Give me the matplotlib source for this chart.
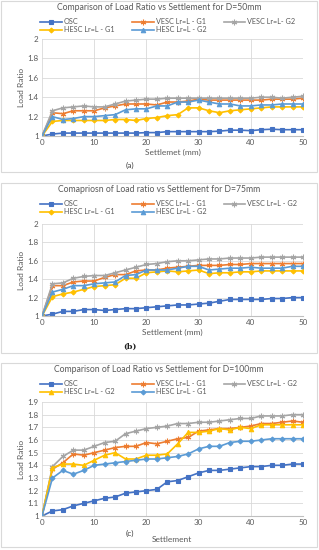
import numpy as np
import matplotlib.pyplot as plt
from matplotlib.patches import Rectangle

plt.rcParams['font.family'] = ['Lato', 'DejaVu Sans']

settlement = list(range(0, 52, 2))

# D = 50 mm
osc_a = [1, 1.02, 1.03, 1.03, 1.03, 1.03, 1.03, 1.03, 1.03, 1.03, 1.035, 1.035, 1.045,
         1.045, 1.045, 1.045, 1.045, 1.05, 1.06, 1.06, 1.055, 1.065, 1.07, 1.065, 1.065, 1.065]
vesc1_a = [1, 1.24, 1.23, 1.26, 1.26, 1.26, 1.29, 1.31, 1.33, 1.33, 1.33, 1.32, 1.35,
           1.35, 1.36, 1.38, 1.37, 1.37, 1.37, 1.37, 1.37, 1.37, 1.38, 1.38, 1.38, 1.39]
vesc2_a = [1, 1.26, 1.29, 1.30, 1.31, 1.30, 1.30, 1.33, 1.36, 1.37, 1.38, 1.38, 1.39,
           1.39, 1.39, 1.39, 1.39, 1.39, 1.39, 1.39, 1.39, 1.40, 1.40, 1.39, 1.40, 1.41]
hesc1_a = [1, 1.15, 1.16, 1.16, 1.16, 1.16, 1.16, 1.17, 1.17, 1.16, 1.18, 1.19, 1.21,
           1.22, 1.29, 1.29, 1.26, 1.24, 1.26, 1.27, 1.28, 1.29, 1.30, 1.30, 1.30, 1.30]
hesc2_a = [1, 1.20, 1.17, 1.18, 1.20, 1.20, 1.21, 1.22, 1.27, 1.28, 1.28, 1.31, 1.31,
           1.35, 1.35, 1.37, 1.35, 1.33, 1.33, 1.31, 1.31, 1.32, 1.32, 1.33, 1.33, 1.33]

# D = 75 mm
osc_b = [1, 1.02, 1.05, 1.05, 1.07, 1.07, 1.06, 1.07, 1.08, 1.08, 1.09, 1.10, 1.11,
         1.12, 1.12, 1.13, 1.14, 1.16, 1.18, 1.18, 1.18, 1.18, 1.19, 1.19, 1.20, 1.20]
vesc1_b = [1, 1.33, 1.33, 1.37, 1.38, 1.38, 1.42, 1.45, 1.45, 1.49, 1.50, 1.50, 1.52,
           1.53, 1.54, 1.55, 1.55, 1.55, 1.56, 1.56, 1.57, 1.57, 1.57, 1.57, 1.57, 1.57]
vesc2_b = [1, 1.35, 1.36, 1.41, 1.43, 1.44, 1.44, 1.47, 1.50, 1.53, 1.56, 1.57, 1.59,
           1.60, 1.60, 1.61, 1.62, 1.62, 1.63, 1.63, 1.63, 1.64, 1.64, 1.64, 1.64, 1.64]
hesc1_b = [1, 1.21, 1.24, 1.26, 1.29, 1.32, 1.33, 1.34, 1.41, 1.41, 1.47, 1.48, 1.49,
           1.48, 1.49, 1.50, 1.46, 1.47, 1.47, 1.48, 1.48, 1.49, 1.49, 1.49, 1.49, 1.49]
hesc2_b = [1, 1.26, 1.29, 1.33, 1.33, 1.35, 1.36, 1.37, 1.44, 1.45, 1.50, 1.50, 1.50,
           1.52, 1.54, 1.54, 1.50, 1.51, 1.52, 1.52, 1.53, 1.52, 1.52, 1.52, 1.54, 1.54]

# D = 100 mm
osc_c = [1, 1.04, 1.05, 1.08, 1.10, 1.12, 1.14, 1.15, 1.18, 1.19, 1.20, 1.21, 1.27,
         1.28, 1.31, 1.34, 1.36, 1.36, 1.37, 1.38, 1.39, 1.39, 1.40, 1.40, 1.41, 1.41]
vesc1_c = [1, 1.37, 1.42, 1.49, 1.48, 1.50, 1.52, 1.54, 1.55, 1.55, 1.58, 1.57, 1.59,
           1.61, 1.62, 1.67, 1.68, 1.69, 1.69, 1.70, 1.71, 1.73, 1.73, 1.74, 1.75, 1.74]
vesc2_c = [1, 1.39, 1.47, 1.52, 1.52, 1.55, 1.58, 1.59, 1.65, 1.67, 1.69, 1.70, 1.71,
           1.73, 1.73, 1.74, 1.74, 1.75, 1.76, 1.77, 1.77, 1.79, 1.79, 1.79, 1.80, 1.80]
hesc2_c = [1, 1.38, 1.41, 1.41, 1.40, 1.44, 1.48, 1.50, 1.45, 1.45, 1.48, 1.48, 1.49,
           1.57, 1.66, 1.66, 1.67, 1.69, 1.68, 1.70, 1.69, 1.72, 1.72, 1.72, 1.72, 1.72]
hesc1_c = [1, 1.30, 1.36, 1.33, 1.36, 1.40, 1.41, 1.42, 1.43, 1.44, 1.45, 1.45, 1.46,
           1.47, 1.49, 1.53, 1.55, 1.55, 1.58, 1.59, 1.59, 1.60, 1.61, 1.61, 1.61, 1.61]

BLUE = '#4472C4'
ORANGE = '#ED7D31'
GRAY = '#A5A5A5'
YELLOW = '#FFC000'
LBLUE = '#5B9BD5'

W, H = 319, 550
fig = plt.figure(figsize=(W / 100, H / 100), dpi=100)


def px(x0, y0, x1, y1):
    # pixel box (top-left origin) -> figure fraction
    return [x0 / W, 1 - y1 / H, (x1 - x0) / W, (y1 - y0) / H]


def panel(box, axbox, title, xlabel, tag, series, ymax, ystep, tagstyle, xl_pos=None):
    b = px(*box)
    fig.patches.append(Rectangle((b[0], b[1]), b[2], b[3], transform=fig.transFigure,
                                 fill=False, ec='#D9D9D9', lw=0.8))
    ax = fig.add_axes(px(*axbox))
    handles = {}
    for name, ys, col, mk, ms in series:
        h, = ax.plot(settlement, ys, color=col, marker=mk, ms=ms, lw=1.2,
                     mew=0.8, label=name)
        handles[name] = h
    ax.set_xlim(0, 50)
    ax.set_ylim(1, ymax)
    ax.set_xticks(range(0, 51, 10))
    ticks = np.round(np.arange(1, ymax + 0.001, ystep), 2)
    ax.set_yticks(ticks)
    ax.set_yticklabels(['%g' % t for t in ticks])
    ax.grid(True, color='#D9D9D9', lw=0.6)
    ax.set_axisbelow(True)
    for s in ['top', 'right', 'left']:
        ax.spines[s].set_visible(False)
    ax.spines['bottom'].set_color('#BFBFBF')
    ax.tick_params(length=0, labelsize=5.8, colors='#595959', pad=2.5)
    ax.set_ylabel('Load Ratio', fontsize=6.0, color='#595959', labelpad=2)
    if xl_pos is None:
        ax.set_xlabel(xlabel, fontsize=6.0, color='#595959', labelpad=2)
    else:
        fig.text(xl_pos[0] / W, 1 - xl_pos[1] / H, xlabel, ha='center', va='center',
                 fontsize=6.0, color='#595959')
    # legend above axes
    order = [series[0][0], series[3][0], series[1][0], series[4][0], series[2][0]]
    leg = fig.legend([handles[n] for n in order], order, ncol=3, fontsize=5.2,
                     frameon=False, loc='upper left', handlelength=3.0,
                     columnspacing=2.4, handletextpad=0.3, labelspacing=0.2,
                     borderpad=0.2, bbox_to_anchor=(35 / W, 1 - (box[1] + 12) / H))
    for t in leg.get_texts():
        t.set_color('#595959')
    fig.text((box[0] + box[2]) / 2 / W, 1 - (box[1] + 7) / H, title, ha='center',
             va='center', fontsize=6.2, color='#595959')
    fig.text(tag[0] / W, 1 - tag[1] / H, tag[2], ha='center', va='center', **tagstyle)
    return ax


panel((1, 1, 317, 172), (42, 39, 303, 136),
      'Comparison of Load Ratio vs Settlement for D=50mm', 'Settlemet (mm)',
      (130, 165, '(a)'),
      [('OSC', osc_a, BLUE, 's', 3.2),
       ('VESC Lr=L - G1', vesc1_a, ORANGE, (6, 2, 0), 4),
       ('VESC Lr=L- G2', vesc2_a, GRAY, (6, 2, 0), 4),
       ('HESC Lr=L - G1', hesc1_a, YELLOW, 'D', 2.5),
       ('HESC Lr=L - G2', hesc2_a, LBLUE, '^', 3.2)],
      2, 0.2, dict(fontsize=6.0, color='#404040'))

panel((1, 183, 317, 353), (42, 224, 303, 316),
      'Comapriosn of Load ratio vs Settlement for D=75mm', 'Settlement (mm)',
      (130, 347, '(b)'),
      [('OSC', osc_b, BLUE, 's', 3.2),
       ('VESC Lr=L - G1', vesc1_b, ORANGE, (6, 2, 0), 4),
       ('VESC Lr=L - G2', vesc2_b, GRAY, (6, 2, 0), 4),
       ('HESC Lr=L - G1', hesc1_b, YELLOW, 'D', 2.5),
       ('HESC Lr=L - G2', hesc2_b, LBLUE, '^', 3.2)],
      2, 0.2, dict(fontsize=5.8, color='#202020', family='DejaVu Serif', weight='bold'))

panel((1, 363, 317, 547), (42, 402, 303, 516),
      'Comparison of Load Ratio vs Settlement for D=100mm', 'Settlement',
      (130, 533, '(c)'),
      [('OSC', osc_c, BLUE, 's', 3.2),
       ('VESC Lr=L - G1', vesc1_c, ORANGE, (6, 2, 0), 4),
       ('VESC Lr=L - G2', vesc2_c, GRAY, (6, 2, 0), 4),
       ('HESC Lr=L - G2', hesc2_c, YELLOW, '^', 3.2),
       ('HESC Lr=L - G1', hesc1_c, LBLUE, 'D', 2.5)],
      1.9, 0.1, dict(fontsize=6.0, color='#404040'), xl_pos=(172, 539))

fig.savefig('out.png', dpi=100)
